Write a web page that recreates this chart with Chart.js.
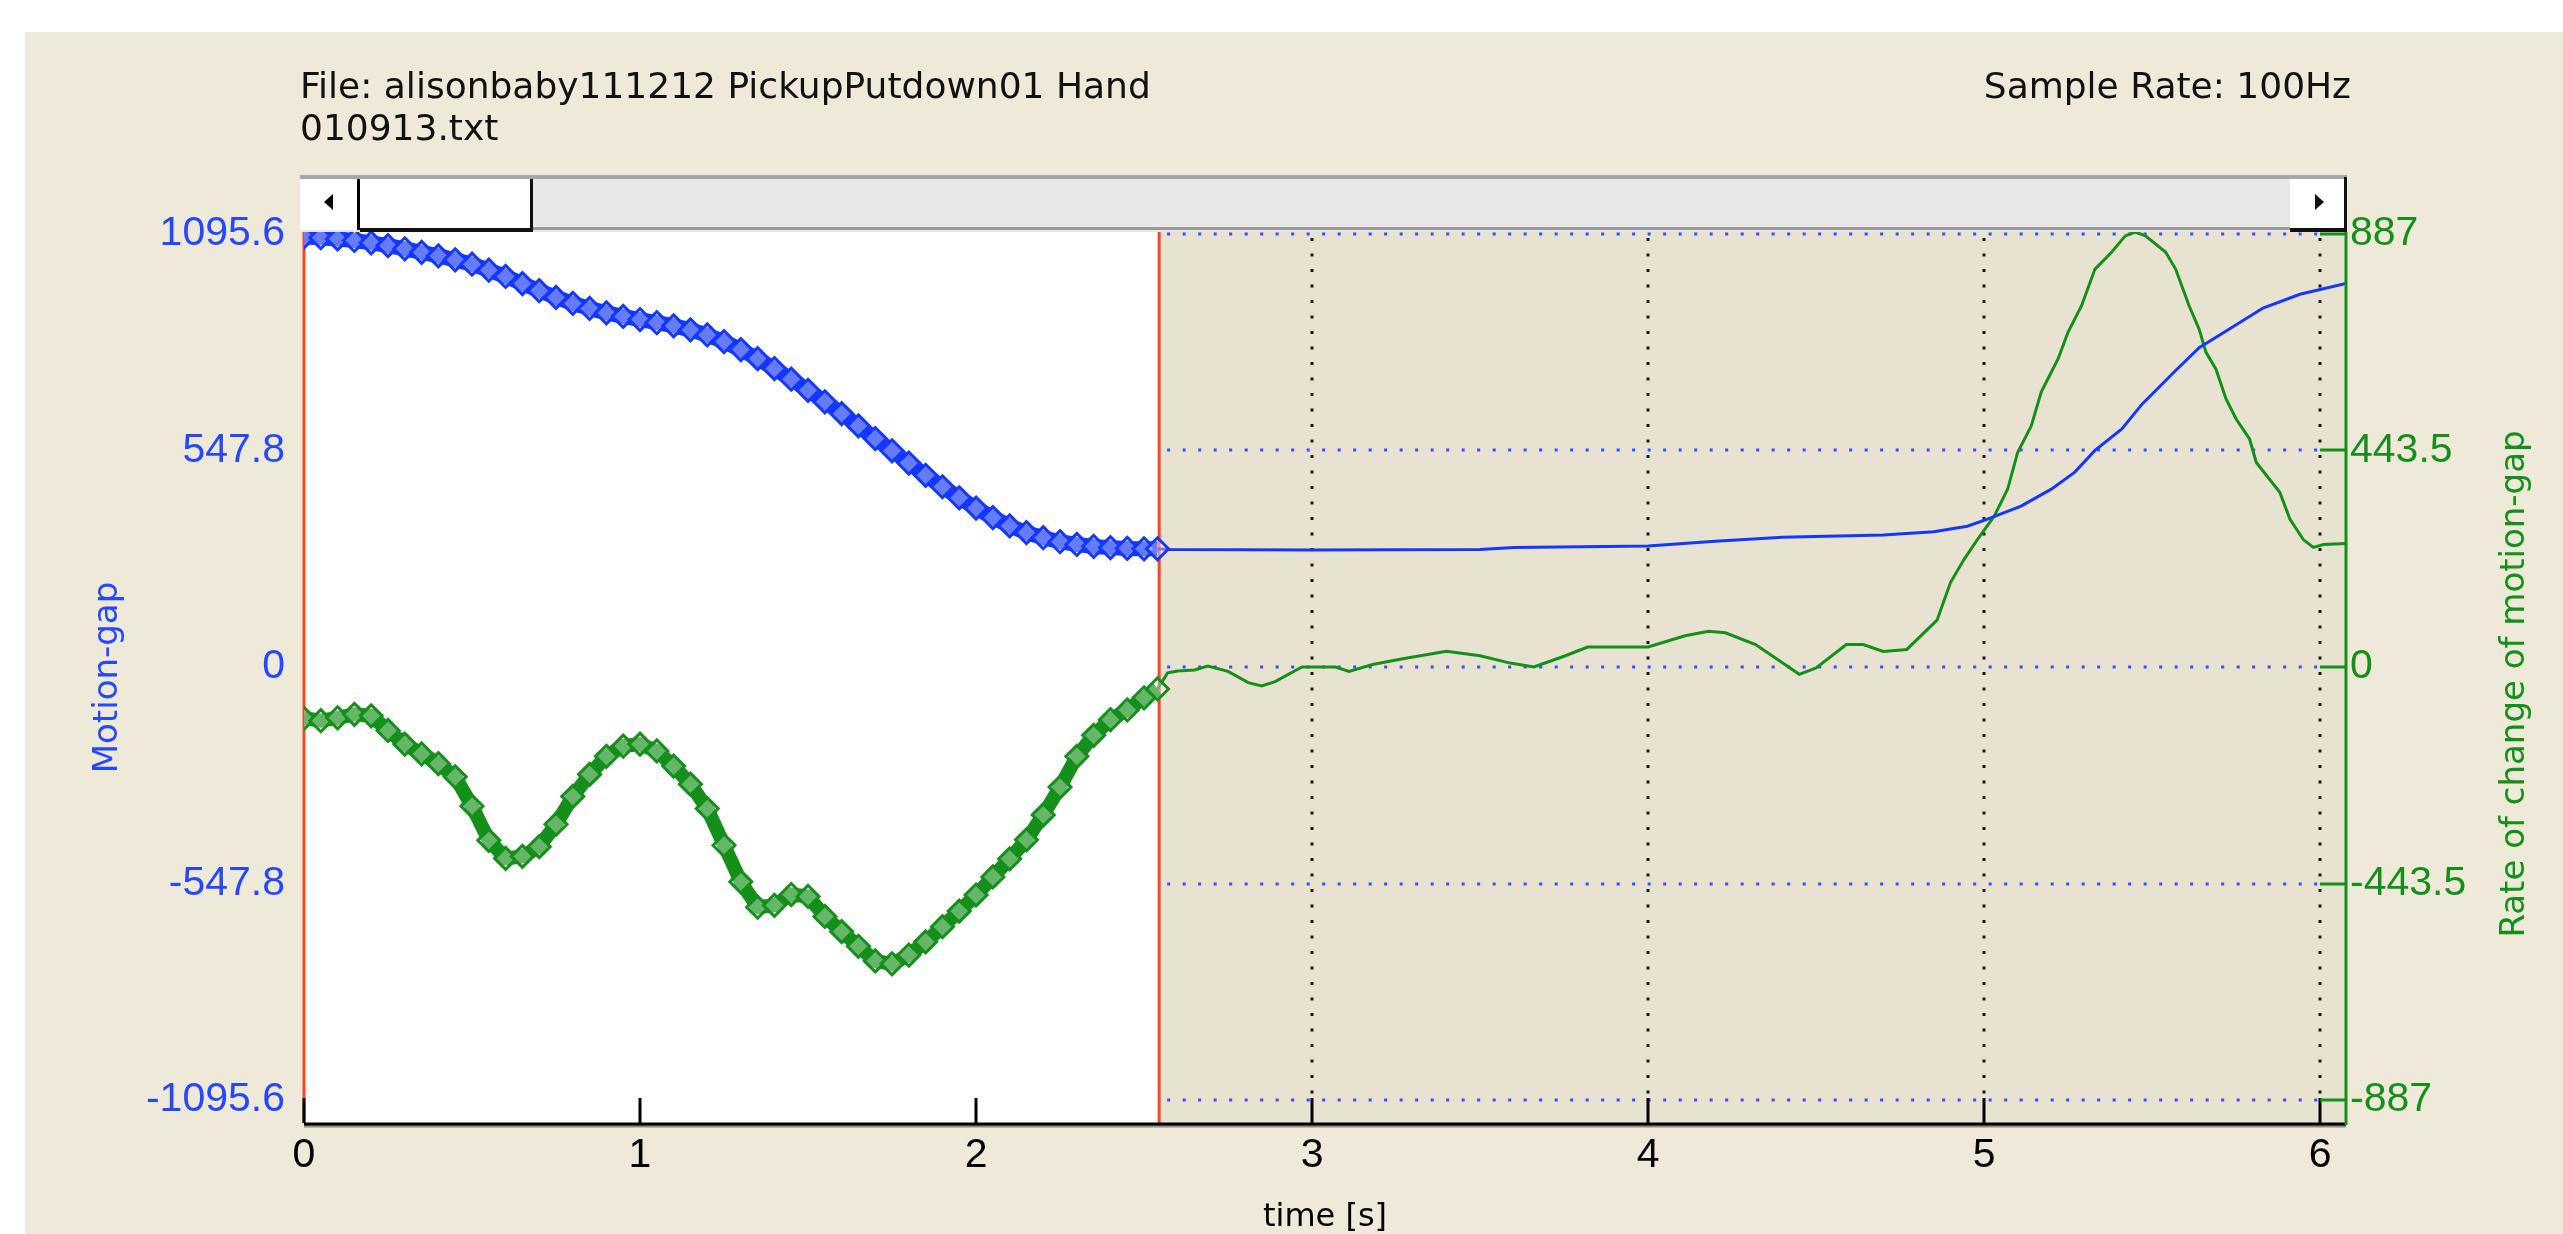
<!DOCTYPE html>
<html>
<head>
<meta charset="utf-8">
<title>Motion-gap</title>
<script src="https://cdn.jsdelivr.net/npm/chart.js@4.4.1/dist/chart.umd.min.js"></script>
<style>
  html, body { margin: 0; padding: 0; background: #fff; overflow: hidden; }
  canvas { display: block; }
</style>
</head>
<body>
<canvas id="grafico" width="2563" height="1234"></canvas>
<script>
// tramo seleccionado (0 - 2.54 s), dibujado con marcadores
const selectionTimes = [0, 0.05, 0.1, 0.15, 0.2, 0.25, 0.3, 0.35, 0.4, 0.45, 0.5, 0.55, 0.6, 0.65, 0.7, 0.75, 0.8, 0.85, 0.9, 0.95,
  1.0, 1.05, 1.1, 1.15, 1.2, 1.25, 1.3, 1.35, 1.4, 1.45, 1.5, 1.55, 1.6, 1.65, 1.7, 1.75, 1.8, 1.85, 1.9, 1.95,
  2.0, 2.05, 2.1, 2.15, 2.2, 2.25, 2.3, 2.35, 2.4, 2.45, 2.5, 2.54];
const selectionMotion = [1088, 1086, 1083, 1079, 1073, 1066, 1058, 1049, 1040, 1030, 1019, 1004, 988, 970, 952, 935, 920, 907, 896, 887,
  879, 871, 863, 853, 840, 823, 803, 780, 755, 728, 700, 671, 641, 610, 578, 547, 516, 485, 456, 428,
  402, 378, 357, 340, 327, 317, 310, 305, 302, 300, 299, 299];
const selectionRate = [-105, -110, -104, -97, -100, -130, -158, -178, -198, -225, -285, -355, -392, -388, -368, -322, -265, -220, -183, -162,
  -158, -172, -203, -240, -290, -365, -440, -492, -488, -466, -470, -511, -542, -572, -602, -608, -590, -563, -532, -500,
  -467, -430, -393, -354, -303, -246, -183, -140, -108, -88, -63, -45];

// resto de la señal, linea fina
const motionTimes = [2.54, 2.57, 3.0, 3.5, 3.6, 4.0, 4.2, 4.4, 4.7, 4.85, 4.95, 5.01, 5.11, 5.2, 5.27, 5.33, 5.41, 5.47, 5.57, 5.64, 5.73, 5.83, 5.94, 6.077];
const motionValues = [299, 297, 296, 297, 302, 306, 318, 328, 334, 342, 356, 374, 407, 450, 493, 548, 602, 665, 750, 808, 855, 908, 943, 970];

const rateTimes = [2.54, 2.57, 2.6, 2.65, 2.69, 2.75, 2.81, 2.85, 2.89, 2.97, 3.07, 3.11, 3.18, 3.27, 3.4, 3.5, 3.59, 3.66, 3.75, 3.82,
  4.0, 4.11, 4.18, 4.23, 4.32, 4.38, 4.45, 4.5, 4.59, 4.64, 4.7, 4.77, 4.86, 4.9, 4.94, 4.98, 5.03, 5.07, 5.1, 5.14,
  5.17, 5.22, 5.25, 5.29, 5.33, 5.38, 5.42, 5.45, 5.48, 5.54, 5.57, 5.61, 5.64, 5.66, 5.69, 5.72, 5.75, 5.79, 5.81, 5.88,
  5.91, 5.95, 5.98, 6.01, 6.077];
const rateValues = [-45, -12, -8, -6, 2, -9, -32, -39, -30, 0, 0, -9, 5, 17, 32, 23, 8, 0, 22, 41,
  41, 64, 73, 70, 46, 18, -15, -2, 46, 46, 32, 36, 96, 173, 220, 261, 309, 364, 440, 493,
  563, 631, 686, 740, 815, 850, 883, 891, 883, 850, 815, 740, 692, 645, 610, 549, 508, 467, 419, 358,
  303, 261, 245, 251, 253];

const timeTicks = [0, 1, 2, 3, 4, 5, 6];
const motionTicks = [-1095.6, -547.8, 0, 547.8, 1095.6];
const rateTicks = [-887, -443.5, 0, 443.5, 887];

const selectionEnd = 2.545;

const AZUL = '#1437ff';
const VERDE = '#14901a';
const ROJO = '#ff4422';
const FONDO_PANEL = '#efe9da';
const FONDO_GRAFICO = '#e8e3d0';

const puntos = (ts, vs) => ts.map((t, i) => ({ x: t, y: vs[i] }));

// fondo, zona seleccionada, rejilla punteada y cursores rojos
const decoracion = {
  id: 'decoracion',
  beforeDraw(chart) {
    const { ctx, chartArea: a, scales } = chart;
    const sx = scales.x.getPixelForValue(selectionEnd);
    ctx.save();
    ctx.fillStyle = '#ffffff';
    ctx.fillRect(0, 0, chart.width, chart.height);
    ctx.fillStyle = FONDO_PANEL;
    ctx.fillRect(25, 32, chart.width - 25, chart.height - 32);
    ctx.fillStyle = FONDO_GRAFICO;
    ctx.fillRect(a.left, a.top, a.right - a.left, a.bottom - a.top);
    ctx.fillStyle = '#ffffff';
    ctx.fillRect(a.left, a.top, sx - a.left, a.bottom - a.top);
    ctx.restore();
  },
  beforeDatasetsDraw(chart) {
    const { ctx, chartArea: a, scales } = chart;
    const sx = scales.x.getPixelForValue(selectionEnd);
    ctx.save();
    ctx.lineWidth = 3;
    ctx.setLineDash([3, 12.5]);
    // horizontales azules en los ticks del eje derecho
    ctx.strokeStyle = '#2d52ff';
    rateTicks.forEach(v => {
      const py = Math.round(scales.yRate.getPixelForValue(v));
      ctx.beginPath();
      ctx.moveTo(sx + 8, py);
      ctx.lineTo(a.right - 26, py);
      ctx.stroke();
    });
    // verticales negras
    ctx.strokeStyle = '#1a1a1a';
    timeTicks.filter(t => t > selectionEnd).forEach(t => {
      const px = Math.round(scales.x.getPixelForValue(t));
      ctx.beginPath();
      ctx.moveTo(px, a.top + 6);
      ctx.lineTo(px, a.bottom - 25);
      ctx.stroke();
    });
    ctx.setLineDash([]);
    // cursores rojos de la seleccion
    ctx.strokeStyle = ROJO;
    [0, selectionEnd].forEach(t => {
      const px = scales.x.getPixelForValue(t);
      ctx.beginPath();
      ctx.moveTo(px, a.top);
      ctx.lineTo(px, a.bottom);
      ctx.stroke();
    });
    ctx.restore();
  },
  afterDatasetsDraw(chart) {
    const { ctx, chartArea: a, scales } = chart;
    ctx.save();
    ctx.lineWidth = 3;
    // ticks del eje x (hacia dentro)
    ctx.strokeStyle = '#000';
    timeTicks.forEach(t => {
      const px = Math.round(scales.x.getPixelForValue(t));
      ctx.beginPath();
      ctx.moveTo(px, a.bottom - 25);
      ctx.lineTo(px, a.bottom);
      ctx.stroke();
    });
    ctx.strokeStyle = '#8c8c80';
    ctx.beginPath();
    ctx.moveTo(a.left, a.bottom + 3);
    ctx.lineTo(a.right, a.bottom + 3);
    ctx.stroke();
    ctx.strokeStyle = '#000';
    ctx.beginPath();
    ctx.moveTo(a.left, a.bottom + 1);
    ctx.lineTo(a.right, a.bottom + 1);
    ctx.stroke();
    // eje derecho verde con ticks
    ctx.strokeStyle = VERDE;
    ctx.beginPath();
    ctx.moveTo(a.right, a.top);
    ctx.lineTo(a.right, a.bottom + 2);
    ctx.stroke();
    rateTicks.forEach(v => {
      const py = Math.round(scales.yRate.getPixelForValue(v));
      ctx.beginPath();
      ctx.moveTo(a.right - 26, py);
      ctx.lineTo(a.right, py);
      ctx.stroke();
    });

    // barra de desplazamiento
    const top = a.top - 57, h = 57, left = a.left - 4, right = a.right + 1;
    ctx.fillStyle = '#e8e8e8';
    ctx.fillRect(left, top, right - left, h);
    ctx.fillStyle = '#a6a6a6';
    ctx.fillRect(left, top, right - left, 4);
    ctx.fillStyle = '#9a9a9a';
    ctx.fillRect(left, top + h - 5, right - left, 3);
    // boton izquierdo
    ctx.fillStyle = '#ffffff';
    ctx.fillRect(left, top + 4, 58, h - 6);
    ctx.fillStyle = '#000';
    ctx.fillRect(left + 57, top + 4, 3, h - 6);
    ctx.beginPath();
    ctx.moveTo(left + 24, top + 27);
    ctx.lineTo(left + 33, top + 19);
    ctx.lineTo(left + 33, top + 35);
    ctx.closePath();
    ctx.fill();
    // cursor de la barra
    ctx.fillStyle = '#ffffff';
    ctx.fillRect(left + 60, top + 4, 172, h - 8);
    ctx.fillStyle = '#111';
    ctx.fillRect(left + 230, top + 4, 3, h - 4);
    ctx.fillRect(left + 60, top + h - 4, 173, 4);
    // boton derecho
    ctx.fillStyle = '#ffffff';
    ctx.fillRect(right - 57, top + 4, 54, h - 8);
    ctx.fillStyle = '#111';
    ctx.fillRect(right - 3, top + 2, 3, h - 2);
    ctx.fillRect(right - 57, top + h - 4, 57, 4);
    ctx.beginPath();
    ctx.moveTo(right - 23, top + 27);
    ctx.lineTo(right - 32, top + 19);
    ctx.lineTo(right - 32, top + 35);
    ctx.closePath();
    ctx.fill();

    // textos de cabecera
    ctx.fillStyle = '#111';
    ctx.font = '36px "DejaVu Sans"';
    ctx.textBaseline = 'alphabetic';
    ctx.textAlign = 'left';
    ctx.fillText('File: alisonbaby111212 PickupPutdown01 Hand', 300, 98);
    ctx.fillText('010913.txt', 300, 140);
    ctx.textAlign = 'right';
    ctx.fillText('Sample Rate: 100Hz', 2351, 98);

    // titulo del eje derecho (girado como el izquierdo)
    ctx.fillStyle = VERDE;
    ctx.font = '34px "DejaVu Sans"';
    ctx.textAlign = 'center';
    ctx.textBaseline = 'middle';
    ctx.translate(2515, 684);
    ctx.rotate(-Math.PI / 2);
    ctx.fillText('Rate of change of motion-gap', 0, 0);
    ctx.restore();
  }
};

const fuenteTicks = { family: 'Liberation Sans', size: 41 };

const grafico = new Chart(document.getElementById('grafico').getContext('2d'), {
  type: 'line',
  data: {
    datasets: [
      {
        label: 'Motion-gap (seleccion)',
        yAxisID: 'yMotion',
        data: puntos(selectionTimes, selectionMotion),
        borderColor: AZUL,
        borderWidth: 15,
        pointStyle: 'rectRot',
        pointRadius: 11,
        pointBorderWidth: 3,
        pointBorderColor: AZUL,
        pointBackgroundColor: 'rgba(255,255,255,0.35)'
      },
      {
        label: 'Rate (seleccion)',
        yAxisID: 'yRate',
        data: puntos(selectionTimes, selectionRate),
        borderColor: VERDE,
        borderWidth: 14,
        pointStyle: 'rectRot',
        pointRadius: 11,
        pointBorderWidth: 3,
        pointBorderColor: VERDE,
        pointBackgroundColor: 'rgba(255,255,255,0.35)'
      },
      {
        label: 'Motion-gap',
        yAxisID: 'yMotion',
        data: puntos(motionTimes, motionValues),
        borderColor: AZUL,
        borderWidth: 3,
        pointRadius: 0
      },
      {
        label: 'Rate of change of motion-gap',
        yAxisID: 'yRate',
        data: puntos(rateTimes, rateValues),
        borderColor: VERDE,
        borderWidth: 3,
        pointRadius: 0
      }
    ]
  },
  options: {
    responsive: false,
    devicePixelRatio: 1,
    animation: false,
    layout: { padding: { top: 232, left: 0, right: 0, bottom: 0 } },
    elements: { line: { tension: 0 } },
    plugins: { legend: { display: false }, tooltip: { enabled: false } },
    scales: {
      x: {
        type: 'linear',
        position: 'bottom',
        min: 0,
        max: 6.077,
        afterBuildTicks: s => { s.ticks = timeTicks.map(v => ({ value: v })); },
        afterFit: s => { s.height = 111; },
        ticks: { color: '#000', font: fuenteTicks, padding: 8, maxRotation: 0, autoSkip: false, callback: v => String(v) },
        grid: { display: false, drawTicks: false },
        border: { display: false },
        title: {
          display: true, text: 'time [s]', color: '#000',
          font: { family: 'DejaVu Sans', size: 32, lineHeight: 1 },
          padding: { top: 0, bottom: 0 }
        }
      },
      yMotion: {
        type: 'linear',
        position: 'left',
        min: -1153.7,
        max: 1100.5,
        afterBuildTicks: s => { s.ticks = motionTicks.map(v => ({ value: v })); },
        afterFit: s => { s.width = 304; },
        ticks: { color: '#2448ff', font: fuenteTicks, padding: 19, autoSkip: false, callback: v => String(v) },
        grid: { display: false, drawTicks: false },
        border: { display: false },
        title: {
          display: true, text: 'Motion-gap', color: '#2448ff',
          font: { family: 'DejaVu Sans', size: 34, lineHeight: 1 },
          padding: { top: 91, bottom: 0 }
        }
      },
      yRate: {
        type: 'linear',
        position: 'right',
        min: -934,
        max: 891,
        afterBuildTicks: s => { s.ticks = rateTicks.map(v => ({ value: v })); },
        afterFit: s => { s.width = 217; },
        ticks: { color: VERDE, font: fuenteTicks, padding: 4, autoSkip: false, callback: v => String(v) },
        grid: { display: false, drawTicks: false },
        border: { display: false }
      }
    }
  },
  plugins: [decoracion]
});
</script>
</body>
</html>
